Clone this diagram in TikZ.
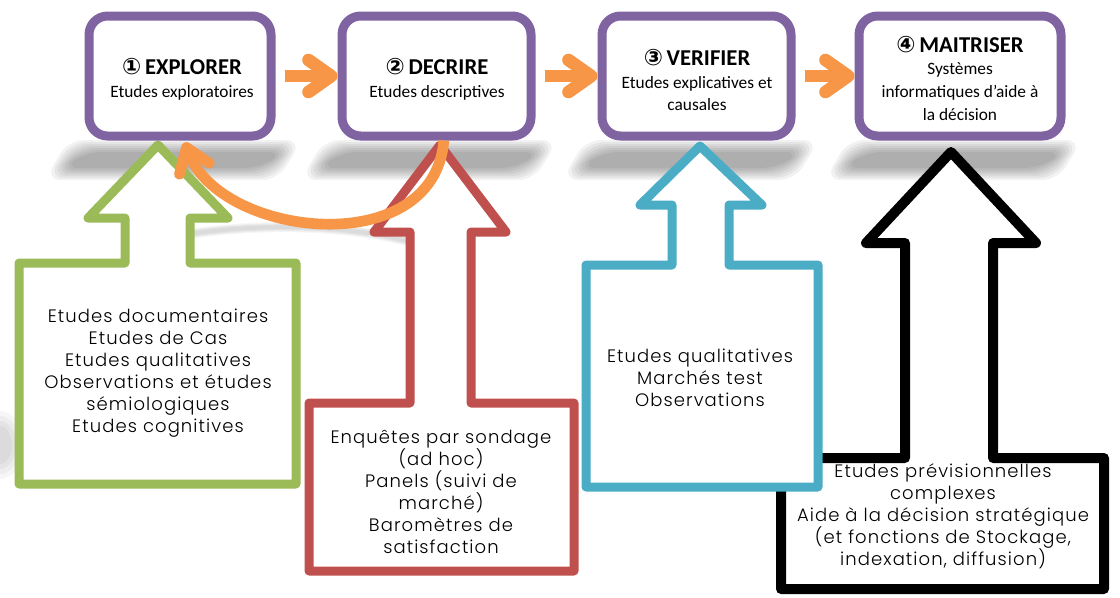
\documentclass[tikz,border=0pt]{standalone}
\usepackage{fontspec}
\setmainfont{Carlito}
\newfontfamily\calloutfont{Poppins Light}[LetterSpace=6]
\newfontfamily\digitfont{DejaVu Sans}
\usetikzlibrary{arrows.meta}

\definecolor{stagepurple}{HTML}{8064A2}
\definecolor{floworange}{HTML}{F79646}
\definecolor{exgreen}{HTML}{9BBB59}
\definecolor{dered}{HTML}{C0504D}
\definecolor{veblue}{HTML}{4BACC6}

\newcommand\stagetitle[2]{{\fontsize{17}{20}\selectfont\bfseries{\digitfont #1}\,#2}}

\begin{document}
\begin{tikzpicture}[x=0.75pt,y=-0.75pt,
  stage/.style={draw=stagepurple, line width=6.75pt, rounded corners=14pt,
    fill=white, inner sep=0pt, minimum height={120*0.75pt}},
  stagetext/.style={align=center, inner sep=0pt,
    font=\fontsize{13}{17}\selectfont},
  flow/.style={draw=floworange, line width=9.5pt,
    -{Straight Barb[length=17pt,width=24pt,round]}},
  callout/.style={line width=6.75pt, line join=round, fill=white},
  callouttext/.style={align=center, inner sep=0pt,
    font=\calloutfont\fontsize{13.5}{16.5}\selectfont},
  shade layer/.style={fill=black, opacity=0.05}]

\useasboundingbox (0,0) rectangle (1120,597);
\fill[white] (0,0) rectangle (1120,597);

% soft shadows beneath the four stage boxes
\foreach \cx in {180,436,697,960} {
  \foreach \k in {0,...,6} {
    \fill[shade layer, rounded corners=12pt]
      ({\cx-112+\k*3},{140+\k*2}) -- ({\cx+122-\k*3},{140+\k*2})
      -- ({\cx+98-\k*3},{180-\k*2}) -- ({\cx-135+\k*3},{180-\k*2}) -- cycle;
  }
}
% faint shadow of the return arrow and of the left block
\foreach \k in {0,...,3} {
  \draw[black, opacity=0.035, line width={(10-2*\k)*0.75pt}, line cap=round]
    (155,240) .. controls (240,222) and (350,222) .. (425,246);
  \fill[black, opacity=0.035] (0,445) ellipse ({24-4*\k} and {34-5*\k});
}

% block arrows with their contents
\draw[callout, draw=exgreen] (125,263) -- (19,263) -- (19,484) -- (296,484)
  -- (296,263) -- (190,263) -- (190,218) -- (228,218) -- (158,145)
  -- (88,218) -- (125,218) -- cycle;
\draw[callout, draw=dered] (410,403) -- (309,403) -- (309,571) -- (574,571)
  -- (574,403) -- (471,403) -- (471,232) -- (506,232) -- (440,145)
  -- (374,232) -- (410,232) -- cycle;
\draw[callout, draw=black, line width=7.5pt] (905,458) -- (781,458) -- (781,589)
  -- (1104,589) -- (1104,458) -- (993,458) -- (993,243) -- (1036,243)
  -- (951,152) -- (866,243) -- (905,243) -- cycle;
\draw[callout, draw=veblue] (672,265) -- (586,265) -- (586,487) -- (818,487)
  -- (818,265) -- (729,265) -- (729,205) -- (762,205) -- (700,146)
  -- (640,205) -- (672,205) -- cycle;

\node[callouttext] (exlist) at (158,373) {Etudes documentaires\\Etudes de Cas\\
  Etudes qualitatives\\Observations et études\\sémiologiques\\Etudes cognitives};
\node[callouttext] (delist) at (441,492) {Enquêtes par sondage\\(ad hoc)\\
  Panels (suivi de\\marché)\\Baromètres de\\satisfaction};
\node[callouttext] (velist) at (700,378) {Etudes qualitatives\\Marchés test\\Observations};
\node[callouttext] (malist) at (943,516) {Etudes prévisionnelles\\complexes\\
  Aide à la décision stratégique\\(et fonctions de Stockage,\\indexation, diffusion)};

% the four stages
\node[stage, minimum width={182*0.75pt}] (explorer) at (180,76) {};
\node[stage, minimum width={189*0.75pt}] (decrire) at (436.5,76) {};
\node[stage, minimum width={189*0.75pt}] (verifier) at (696.5,76) {};
\node[stage, minimum width={202*0.75pt}] (maitriser) at (960,76) {};

\node[stagetext] (explorertext) at (182,79)
  {\stagetitle{①}{EXPLORER}\\Etudes exploratoires};
\node[stagetext] (decriretext) at (437,79)
  {\stagetitle{②}{DECRIRE}\\Etudes descriptives};
\node[stagetext] (verifiertext) at (697,80)
  {\stagetitle{③}{VERIFIER}\\Etudes explicatives et\\causales};
\node[stagetext] (maitrisertext) at (960,78)
  {\stagetitle{④}{MAITRISER}\\Systèmes\\informatiques d'aide à\\la décision};

% return arrow from DECRIRE back to EXPLORER
\draw[flow, line width=8pt]
  ([xshift=5.5pt]decrire.south) .. controls (434,262) and (220,238)
  .. ([xshift=3.5pt,yshift=-1.5pt]explorer.south);

% forward arrows between the stages
\draw[flow, shorten <=7pt] (explorer.east) -- (decrire.west);
\draw[flow, shorten <=7pt] (decrire.east) -- (verifier.west);
\draw[flow, shorten <=7pt] (verifier.east) -- (maitriser.west);
\end{tikzpicture}
\end{document}
